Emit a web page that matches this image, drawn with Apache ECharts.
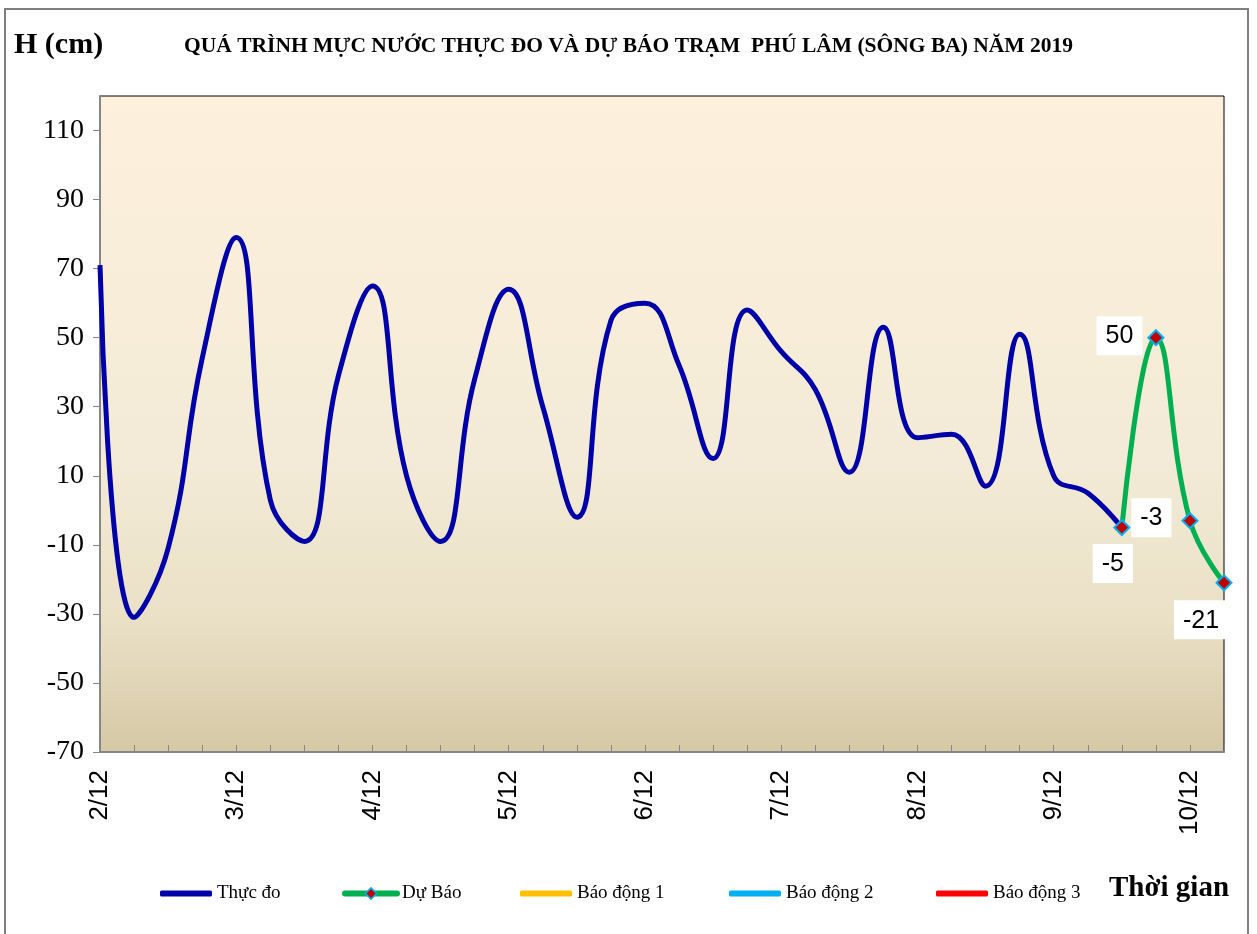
<!DOCTYPE html>
<html>
<head>
<meta charset="utf-8">
<title>Phú Lâm</title>
<script src="https://cdn.jsdelivr.net/npm/echarts@6/dist/echarts.min.js"></script>
<style>
  html, body { margin: 0; padding: 0; background: #fff; }
  #chart { width: 1257px; height: 934px; }
</style>
</head>
<body>
<div id="chart"></div>
<script>
// 6-hourly time steps, 2/12 00h .. 10/12 06h
const categories = [
  '2/12 00h', '2/12 06h', '2/12 12h', '2/12 18h',
  '3/12 00h', '3/12 06h', '3/12 12h', '3/12 18h',
  '4/12 00h', '4/12 06h', '4/12 12h', '4/12 18h',
  '5/12 00h', '5/12 06h', '5/12 12h', '5/12 18h',
  '6/12 00h', '6/12 06h', '6/12 12h', '6/12 18h',
  '7/12 00h', '7/12 06h', '7/12 12h', '7/12 18h',
  '8/12 00h', '8/12 06h', '8/12 12h', '8/12 18h',
  '9/12 00h', '9/12 06h', '9/12 12h', '9/12 18h',
  '10/12 00h', '10/12 06h'
]

// Thực đo (measured)
const thucDo = [
  71, -31, -11, 44,
  79, 3, -9, 39,
  65, 10, -9, 38,
  64, 30, -2, 55,
  60, 42, 15, 58,
  46, 35, 11, 53,
  21, 22, 7, 51,
  10, 5, -5, null,
  null, null
]

// Dự báo (forecast)
const duBao = [
  null, null, null, null, null, null, null, null, null, null,
  null, null, null, null, null, null, null, null, null, null,
  null, null, null, null, null, null, null, null, null, null,
  -5, 50, -3, -21
]

// label placement for each forecast point
const duBaoLabelPos = { 30: ['bottom', [-9, 3]], 31: ['left', [0, -2]], 32: ['left', [-5, -3]], 33: ['bottom', [-23, 4]] }

const yTicks = [-70, -50, -30, -10, 10, 30, 50, 70, 90, 110]

const serif = '"Liberation Serif", "Times New Roman", serif'
const sans = '"Liberation Sans", Arial, sans-serif'

const chart = echarts.init(document.getElementById('chart'))

const duBaoData = duBao.map((v, i) => {
  if (v === null || !duBaoLabelPos[i]) return v
  return {
    value: v,
    label: { position: duBaoLabelPos[i][0], offset: duBaoLabelPos[i][1] }
  }
})

const legendBase = {
  top: 879,
  itemWidth: 52,
  itemHeight: 6,
  itemGap: 5,
  textStyle: { fontFamily: serif, fontSize: 19, color: '#000' }
}
const barLegend = (left, name) =>
  Object.assign({}, legendBase, { left: left, data: [{ name: name, icon: 'roundRect' }] })

const option = {
  backgroundColor: '#fff',
  animation: false,
  title: {
    text: 'QUÁ TRÌNH MỰC NƯỚC THỰC ĐO VÀ DỰ BÁO TRẠM  PHÚ LÂM (SÔNG BA) NĂM 2019',
    left: 'center',
    top: 30,
    textStyle: { fontFamily: serif, fontSize: 21.5, fontWeight: 'bold', color: '#000' }
  },
  graphic: [
    {
      type: 'rect',
      shape: { x: 5, y: 9, width: 1243, height: 940 },
      style: { fill: 'none', stroke: '#7f7f7f', lineWidth: 2 },
      silent: true
    },
    {
      type: 'text', left: 14, top: 30,
      style: { text: 'H (cm)', font: 'bold 30px ' + serif, fill: '#000' }
    },
    {
      type: 'text', left: 1109, top: 874,
      style: { text: 'Thời gian', font: 'bold 29px ' + serif, fill: '#000' }
    }
  ],
  legend: [
    barLegend(155, 'Thực đo'),
    Object.assign({}, legendBase, {
      left: 337, itemHeight: 14,
      data: ['Dự Báo'],
      lineStyle: { width: 6, cap: 'round' },
      itemStyle: { borderWidth: 1.5 }
    }),
    barLegend(515, 'Báo động 1'),
    barLegend(724, 'Báo động 2'),
    barLegend(931, 'Báo động 3')
  ],
  grid: {
    left: 100, right: 33, top: 96, bottom: 182,
    show: true,
    borderColor: '#000',
    borderWidth: 1,
    backgroundColor: new echarts.graphic.LinearGradient(0, 0, 0, 1, [
      { offset: 0, color: '#FDF0DC' },
      { offset: 0.55, color: '#F3EBD7' },
      { offset: 0.8, color: '#EAE0C6' },
      { offset: 1, color: '#D5C8A5' }
    ])
  },
  xAxis: {
    type: 'category',
    data: categories,
    boundaryGap: false,
    axisLine: { onZero: false, lineStyle: { color: '#868686', width: 2 } },
    axisTick: { inside: true, length: 7, interval: 0, lineStyle: { color: '#868686', width: 1 } },
    axisLabel: {
      interval: (idx) => idx % 4 === 0,
      rotate: 90,
      margin: 18,
      fontFamily: sans,
      fontSize: 26,
      color: '#000',
      formatter: (v) => v.split(' ')[0]
    },
    splitLine: { show: false }
  },
  yAxis: {
    type: 'value',
    min: -70,
    max: 120,
    interval: 20,
    axisLine: { show: true, lineStyle: { color: '#868686', width: 2 } },
    axisTick: { show: true, length: 7, customValues: yTicks, lineStyle: { color: '#868686' } },
    axisLabel: {
      margin: 16,
      fontFamily: serif,
      fontSize: 28,
      color: '#000',
      customValues: yTicks,
      formatter: (v) => yTicks.indexOf(v) >= 0 ? String(v) : ''
    },
    splitLine: { show: false }
  },
  series: [
    {
      name: 'Thực đo',
      type: 'line',
      data: thucDo,
      smooth: 0.45,
      symbol: 'none',
      color: '#0000A8',
      lineStyle: { color: '#0000A8', width: 5 },
      z: 2
    },
    {
      name: 'Dự Báo',
      type: 'line',
      data: duBaoData,
      smooth: 0.45,
      symbol: 'diamond',
      symbolSize: 15,
      showAllSymbol: true,
      color: '#00B050',
      lineStyle: { color: '#00B050', width: 5 },
      itemStyle: { color: '#C00000', borderColor: '#00B0F0', borderWidth: 2 },
      label: {
        show: true,
        fontFamily: sans,
        fontSize: 25,
        color: '#000',
        backgroundColor: '#fff',
        padding: [8, 9, 6, 9]
      },
      z: 3
    },
    {
      name: 'Báo động 1', type: 'line', data: [], symbol: 'none',
      color: '#FFC000', lineStyle: { color: '#FFC000', width: 5 }
    },
    {
      name: 'Báo động 2', type: 'line', data: [], symbol: 'none',
      color: '#00B0F0', lineStyle: { color: '#00B0F0', width: 5 }
    },
    {
      name: 'Báo động 3', type: 'line', data: [], symbol: 'none',
      color: '#FF0000', lineStyle: { color: '#FF0000', width: 5 }
    }
  ]
}

chart.setOption(option)
</script>
</body>
</html>
